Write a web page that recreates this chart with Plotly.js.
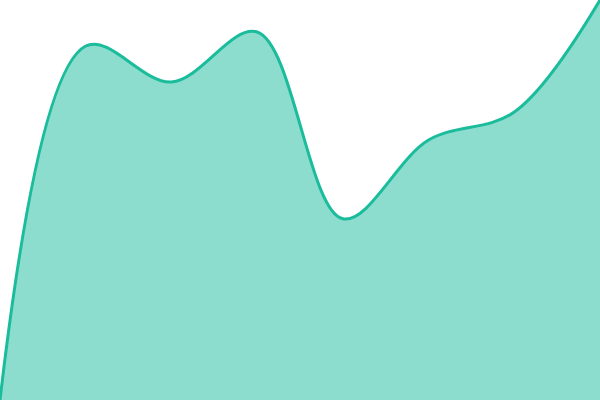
<!DOCTYPE html>
<html>
<head>
<meta charset="utf-8">
<script src="https://cdn.plot.ly/plotly-3.0.1.min.js"></script>
<style>
  html, body { margin: 0; padding: 0; background: #ffffff; }
  #plot { width: 600px; height: 400px; }
</style>
</head>
<body>
<div id="plot"></div>
<script>
// data points, evenly spaced across the width
const steps = [0, 1, 2, 3, 4, 5, 6, 7];
const values = [0, 88.5, 79.5, 92, 45.3, 65, 72, 100];

const lineColor = "#1abc9c";

const trace = {
  x: steps,
  y: values,
  type: "scatter",
  mode: "lines",
  fill: "tozeroy",
  fillcolor: "rgba(26,188,156,0.5)",
  line: { color: lineColor, width: 3, shape: "spline", smoothing: 1 },
  hoverinfo: "skip",
};

const hiddenAxis = {
  showgrid: false,
  zeroline: false,
  showline: false,
  showticklabels: false,
  ticks: "",
  fixedrange: true,
};

const layout = {
  width: 600,
  height: 400,
  margin: { l: 0, r: 0, t: 0, b: 0 },
  paper_bgcolor: "#ffffff",
  plot_bgcolor: "#ffffff",
  showlegend: false,
  xaxis: Object.assign({ range: [0, 7] }, hiddenAxis),
  yaxis: Object.assign({ range: [0, 100] }, hiddenAxis),
};

Plotly.newPlot("plot", [trace], layout, { displayModeBar: false, staticPlot: true });
</script>
</body>
</html>
